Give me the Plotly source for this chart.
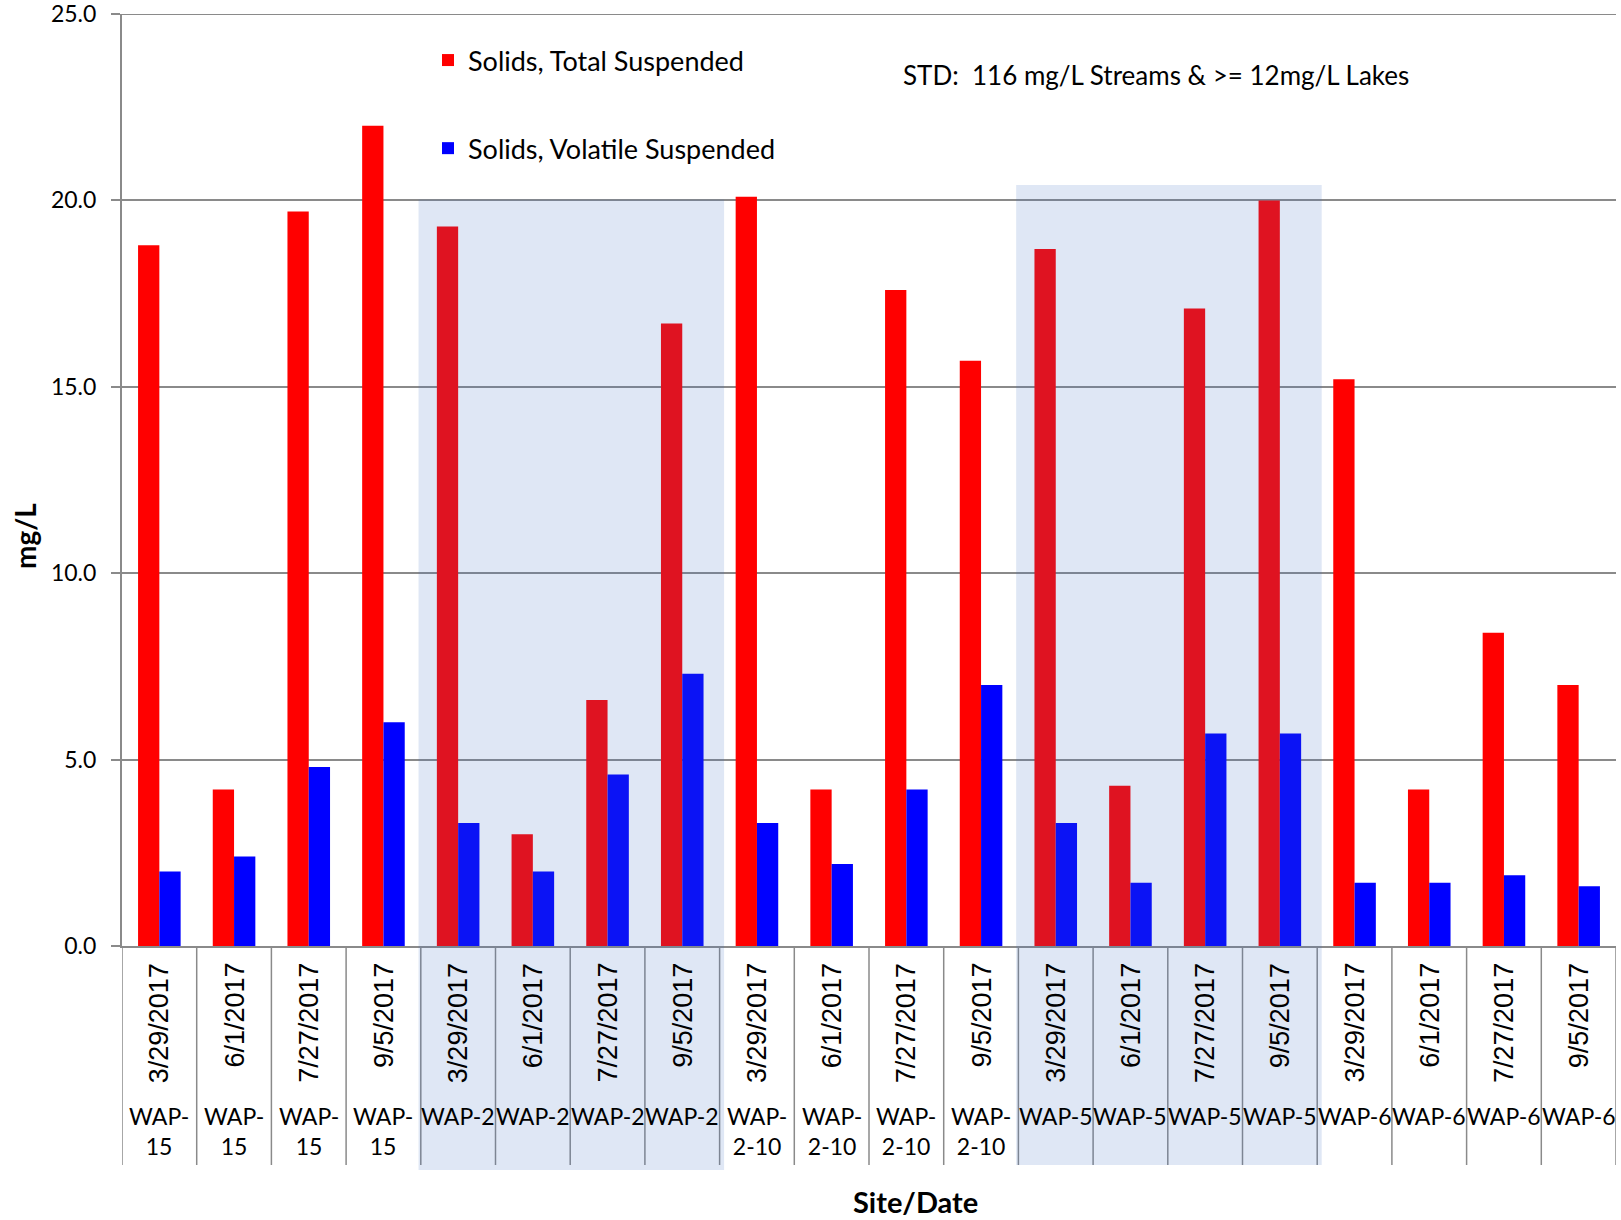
import plotly.graph_objects as go

# ---- data ----
sites = ["WAP-15", "WAP-15", "WAP-15", "WAP-15",
         "WAP-2", "WAP-2", "WAP-2", "WAP-2",
         "WAP-2-10", "WAP-2-10", "WAP-2-10", "WAP-2-10",
         "WAP-5", "WAP-5", "WAP-5", "WAP-5",
         "WAP-6", "WAP-6", "WAP-6", "WAP-6"]
dates = ["3/29/2017", "6/1/2017", "7/27/2017", "9/5/2017",
         "3/29/2017", "6/1/2017", "7/27/2017", "9/5/2017",
         "3/29/2017", "6/1/2017", "7/27/2017", "9/5/2017",
         "3/29/2017", "6/1/2017", "7/27/2017", "9/5/2017",
         "3/29/2017", "6/1/2017", "7/27/2017", "9/5/2017"]
tss = [18.8, 4.2, 19.7, 22.0, 19.3, 3.0, 6.6, 16.7, 20.1, 4.2,
       17.6, 15.7, 18.7, 4.3, 17.1, 20.0, 15.2, 4.2, 8.4, 7.0]
vss = [2.0, 2.4, 4.8, 6.0, 3.3, 2.0, 4.6, 7.3, 3.3, 2.2,
       4.2, 7.0, 3.3, 1.7, 5.7, 5.7, 1.7, 1.7, 1.9, 1.6]
highlight_sites = ["WAP-2", "WAP-5"]
y_ticks = [0, 5, 10, 15, 20, 25]
y_max = 25
std_text = "STD:\u00a0 116 mg/L Streams & >= 12mg/L Lakes"

n = len(dates)
xpos = list(range(n))

GRID = "#8a8a8a"
FONT = "Lato"

# body margin is removed by a post script, so figure pixels == page pixels
W, H = 1621, 1220
PL, PT = 122, 14         # plot-area offset inside the figure
PW, PH = 1494, 932       # plot-area size


def px_x(px):   # page pixel x -> paper
    return (px - PL) / PW


def px_y(py):   # page pixel y -> paper
    return (PT + PH - py) / PH


fig = go.Figure()
fig.add_bar(x=xpos, y=tss, name="Solids, Total Suspended",
            marker=dict(color="#FF0000", line=dict(width=0)), legendgroup="a")
fig.add_bar(x=xpos, y=vss, name="Solids, Volatile Suspended",
            marker=dict(color="#0000FF", line=dict(width=0)), legendgroup="b")

shapes = []
annotations = []

# top gridline (at the edge of the plot area)
shapes.append(dict(type="line", xref="paper", yref="y", x0=0, x1=1, y0=y_max, y1=y_max,
                   line=dict(color=GRID, width=2), layer="below"))

# table vertical lines under the axis
TABLE_BOTTOM = px_y(1165)
for i in range(n + 1):
    shapes.append(dict(type="line", xref="x", yref="paper",
                       x0=i - 0.5, x1=i - 0.5, y0=0, y1=TABLE_BOTTOM,
                       line=dict(color=GRID, width=1.5), layer="above"))

# shaded highlight boxes
shade_tops = {"WAP-2": px_y(199.5), "WAP-5": px_y(185)}
shade_bottoms = {"WAP-2": px_y(1170), "WAP-5": px_y(1165)}
for s in highlight_sites:
    idx = [i for i, v in enumerate(sites) if v == s]
    shapes.append(dict(type="rect", xref="x", yref="paper",
                       x0=min(idx) - 0.53, x1=max(idx) + 0.56,
                       y0=shade_bottoms[s], y1=shade_tops[s],
                       fillcolor="rgba(68,114,196,0.17)", line=dict(width=0),
                       layer="above"))

# date labels (rotated) and site labels
for i in range(n):
    annotations.append(dict(x=i, y=px_y(961), xref="x", yref="paper",
                            text=dates[i], textangle=-90, showarrow=False,
                            xanchor="center", yanchor="top",
                            font=dict(family="Liberation Sans", size=27, color="#000")))
    s = sites[i]
    label = s if len(s) <= 5 else "WAP-<br>" + s[4:]
    annotations.append(dict(x=i, y=px_y(1100), xref="x", yref="paper",
                            text=label, showarrow=False,
                            xanchor="center", yanchor="top",
                            font=dict(family=FONT, size=23, color="#000")))

# STD note
annotations.append(dict(x=px_x(901), y=px_y(75), xref="paper", yref="paper",
                        text=std_text, showarrow=False, xanchor="left", yanchor="middle",
                        font=dict(family=FONT, size=26, color="#000")))
# axis titles
annotations.append(dict(x=px_x(915), y=px_y(1201), xref="paper", yref="paper",
                        text="<b>Site/Date</b>", showarrow=False, xanchor="center", yanchor="middle",
                        font=dict(family=FONT, size=29, color="#000")))
annotations.append(dict(x=px_x(25), y=px_y(536), xref="paper", yref="paper",
                        text="<b>mg/L</b>", textangle=-90, showarrow=False,
                        xanchor="center", yanchor="middle",
                        font=dict(family=FONT, size=28, color="#000")))

fig.update_layout(
    width=W, height=H,
    margin=dict(l=PL, r=W - PL - PW, t=PT, b=H - PT - PH, autoexpand=False),
    paper_bgcolor="white", plot_bgcolor="white",
    barmode="group", bargap=0.43, bargroupgap=0,
    showlegend=True,
    legend=dict(x=px_x(428), y=px_y(36), xanchor="left", yanchor="top",
                bgcolor="rgba(0,0,0,0)", font=dict(family=FONT, size=27, color="#000"),
                tracegroupgap=50, traceorder="grouped"),
    shapes=shapes, annotations=annotations,
    xaxis=dict(range=[-0.5, n - 0.5], showticklabels=False, showgrid=False, zeroline=False,
               showline=True, linecolor=GRID, linewidth=2, ticks=""),
    yaxis=dict(range=[0, y_max + 0.001], tickvals=y_ticks, tickformat=".1f",
               showgrid=True, gridcolor=GRID, gridwidth=2, zeroline=False,
               showline=True, linecolor=GRID, linewidth=2,
               ticks="outside", ticklen=9, tickcolor=GRID, tickwidth=2,
               ticklabelstandoff=10, ticklabeloverflow="allow",
               tickfont=dict(family=FONT, size=23, color="#000")),
)

fig.write_html("out.html", config={"displayModeBar": False},
               post_script="document.body.style.margin='0';document.body.style.overflow='hidden';")
